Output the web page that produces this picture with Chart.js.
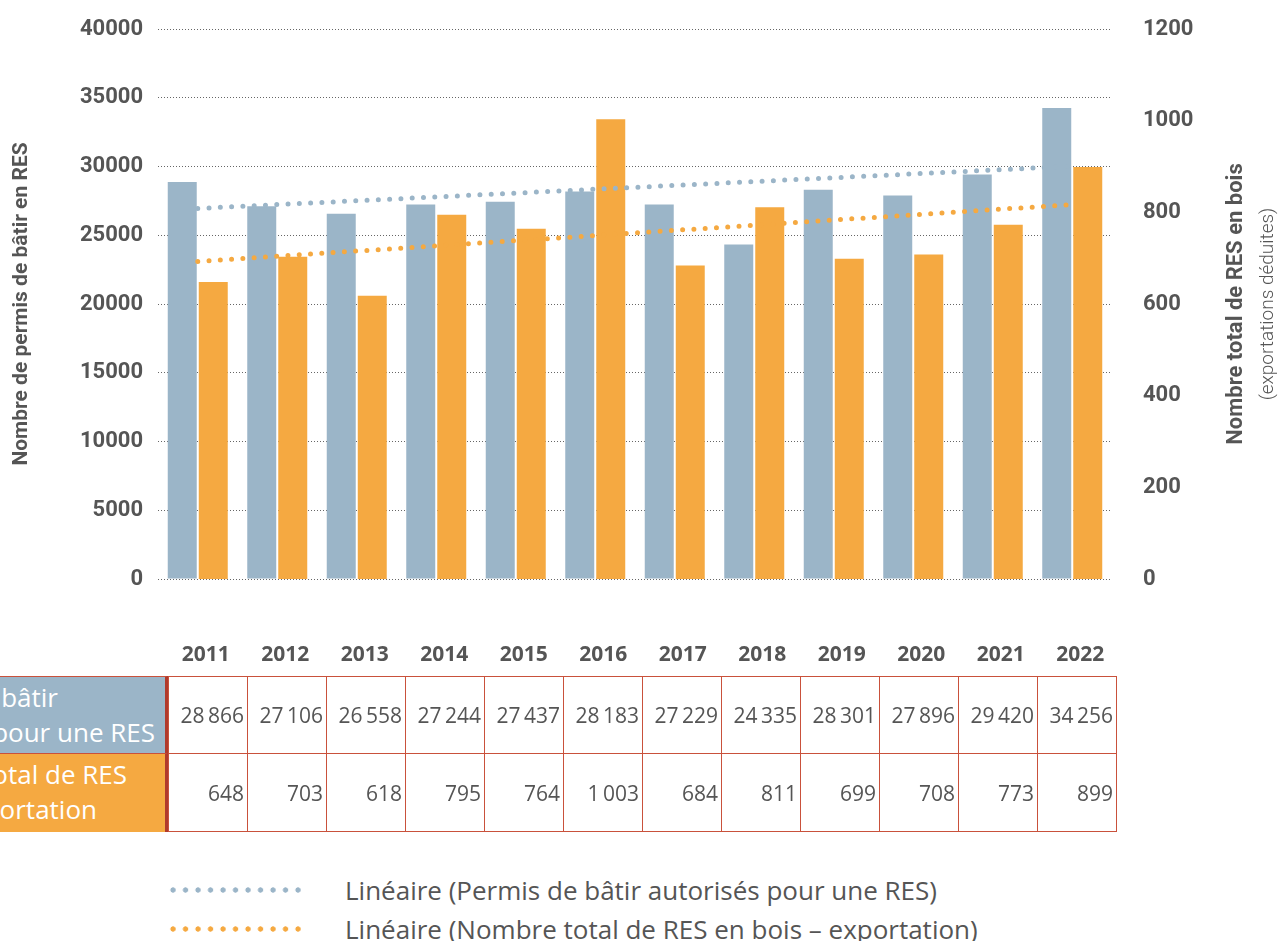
<!DOCTYPE html>
<html lang="fr">
<head>
<meta charset="utf-8">
<script src="https://cdn.jsdelivr.net/npm/chart.js@4.4.1/dist/chart.umd.min.js"></script>
<style>
  body { margin: 0; background: #fff; font-family: "Open Sans", sans-serif; }
  #wrap { position: relative; width: 1280px; height: 941px; overflow: hidden; }
  #chart { position: absolute; left: 0; top: 0; }
  .hcell { position: absolute; left: 0; width: 168px; box-sizing: border-box; overflow: hidden;
           border-right: 3px solid #b03a2c; border-top: 1px solid #c9513b; color: #fff; font-size: 26px; }
  .hline { position: absolute; white-space: nowrap; text-align: right; line-height: 35px; }
  .cell { position: absolute; box-sizing: border-box; border: 1px solid #c9513b; font-size: 21px; color: #555;
          display: flex; align-items: center; justify-content: flex-end; padding-right: 3px; }
  .leg { position: absolute; left: 167px; height: 34px; display: flex; align-items: center; font-size: 26px; color: #555; white-space: nowrap; }
  .leg .dots { width: 140px; height: 6px; margin-right: 38px; background-size: 12.5px 6px; background-repeat: repeat-x; }
</style>
</head>
<body>
<div id="wrap">
  <canvas id="chart" width="1280" height="680"></canvas>
  <div id="table"></div>
  <div id="legend"></div>
</div>
<script>
// données
const annees = ['2011', '2012', '2013', '2014', '2015', '2016', '2017', '2018', '2019', '2020', '2021', '2022'];
const permis = [28866, 27106, 26558, 27244, 27437, 28183, 27229, 24335, 28301, 27896, 29420, 34256];
const resBois = [648, 703, 618, 795, 764, 1003, 684, 811, 699, 708, 773, 899];
// courbes de tendance : seulement les extrémités
const tendancePermis = [26950, null, null, null, null, null, null, null, null, null, null, 30020];
const tendanceRes = [693, null, null, null, null, null, null, null, null, null, null, 817];

const nomPermis = 'Permis de bâtir autorisés pour une RES';
const nomRes = 'Nombre total de RES en bois – exportation';
const titreGauche = 'Nombre de permis de bâtir en RES';
const titreDroite = 'Nombre total de RES en bois';
const sousTitreDroite = '(exportations déduites)';

const BLEU = '#9bb5c8';
const ORANGE = '#f5a941';
const GRIS = '#555555';
const COND = "Roboto, 'Liberation Sans Narrow', sans-serif";

// titre de l'axe de droite (lu de bas en haut)
const titreDroitePlugin = {
    id: 'titreDroite',
    afterDraw(chart) {
        const ctx = chart.ctx;
        const cy = (chart.chartArea.top + chart.chartArea.bottom) / 2;
        ctx.save();
        ctx.fillStyle = GRIS;
        ctx.textAlign = 'center';
        ctx.textBaseline = 'middle';
        ctx.translate(1236, cy);
        ctx.rotate(-Math.PI / 2);
        ctx.font = 'bold 22px ' + COND;
        ctx.fillText(titreDroite, 0, 0);
        ctx.restore();
        ctx.save();
        ctx.fillStyle = GRIS;
        ctx.textAlign = 'center';
        ctx.textBaseline = 'middle';
        ctx.translate(1268, cy);
        ctx.rotate(-Math.PI / 2);
        ctx.font = '300 19px ' + COND;
        ctx.fillText(sousTitreDroite, 0, 0);
        ctx.restore();
    }
};

const tickFont = { family: COND, weight: 'bold', size: 22 };

const chart = new Chart(document.getElementById('chart').getContext('2d'), {
    type: 'bar',
    data: {
        labels: annees,
        datasets: [
            {
                type: 'line', label: 'Linéaire (' + nomPermis + ')', data: tendancePermis, yAxisID: 'y',
                borderColor: BLEU, borderWidth: 5, borderDash: [0, 11.3], borderCapStyle: 'round',
                pointRadius: 0, spanGaps: true, fill: false, order: 0
            },
            {
                type: 'line', label: 'Linéaire (' + nomRes + ')', data: tendanceRes, yAxisID: 'y1',
                borderColor: ORANGE, borderWidth: 5, borderDash: [0, 11.3], borderCapStyle: 'round',
                pointRadius: 0, spanGaps: true, fill: false, order: 0
            },
            {
                label: nomPermis, data: permis, backgroundColor: BLEU, yAxisID: 'y',
                categoryPercentage: 0.78, barPercentage: 0.935, order: 1
            },
            {
                label: nomRes, data: resBois, backgroundColor: ORANGE, yAxisID: 'y1',
                categoryPercentage: 0.78, barPercentage: 0.935, order: 1
            }
        ]
    },
    options: {
        responsive: false,
        animation: false,
        layout: { padding: { top: 29, left: 0, right: 0, bottom: 0 } },
        plugins: { legend: { display: false }, tooltip: { enabled: false } },
        scales: {
            x: {
                grid: { display: false },
                border: { display: false },
                ticks: { color: GRIS, font: { family: "'Open Sans', sans-serif", weight: 'bold', size: 21 },
                         padding: 55, labelOffset: 8, maxRotation: 0 },
                afterFit: function(s) { s.height = 101; }
            },
            y: {
                position: 'left', min: 0, max: 40000,
                ticks: { stepSize: 5000, color: GRIS, font: tickFont, padding: 15,
                         callback: function(v) { return String(v); } },
                grid: { color: '#666', drawTicks: false, lineWidth: 1 },
                border: { display: false, dash: [1, 2] },
                title: { display: true, text: titreGauche, color: GRIS,
                         font: { family: COND, weight: 'bold', size: 21 }, padding: { top: 9 } },
                afterFit: function(s) { s.width = 158; }
            },
            y1: {
                position: 'right', min: 0, max: 1200,
                ticks: { stepSize: 200, color: GRIS, font: tickFont, padding: 3,
                         callback: function(v) { return String(v); } },
                // marques masquées : leur longueur décale seulement les étiquettes
                grid: { display: false, drawTicks: true, tickLength: 28 },
                border: { display: false },
                afterFit: function(s) { s.width = 168; }
            }
        }
    },
    plugins: [titreDroitePlugin]
});

// tableau de données sous le graphique
function fmt(v) {
    return String(v).replace(/\B(?=(\d{3})+(?!\d))/g, '\u2009');
}

const table = document.getElementById('table');
const rangees = [
    { valeurs: permis, couleur: BLEU, top: 676, h: 78,
      lignes: [['Permis de bâtir', 58], ['autorisés pour une RES', 155]] },
    { valeurs: resBois, couleur: ORANGE, top: 753, h: 79,
      lignes: [['Nombre total de RES', 127], ['en bois – exportation', 97]] }
];
rangees.forEach(function(r) {
    const h = document.createElement('div');
    h.className = 'hcell';
    h.style.top = r.top + 'px';
    h.style.height = r.h + 'px';
    h.style.background = r.couleur;
    r.lignes.forEach(function(l, k) {
        const d = document.createElement('div');
        d.className = 'hline';
        d.textContent = l[0];
        d.style.right = (165 - l[1]) + 'px';
        d.style.top = (3 + k * 35) + 'px';
        h.appendChild(d);
    });
    table.appendChild(h);
    r.valeurs.forEach(function(v, i) {
        const c = document.createElement('div');
        c.className = 'cell';
        c.style.left = (168 + 79 * i) + 'px';
        c.style.width = '80px';
        c.style.top = r.top + 'px';
        c.style.height = r.h + 'px';
        c.textContent = fmt(v);
        table.appendChild(c);
    });
});

// légende des tendances
const legende = document.getElementById('legend');
[[chart.data.datasets[0], 873], [chart.data.datasets[1], 912]].forEach(function(e) {
    const ds = e[0];
    const row = document.createElement('div');
    row.className = 'leg';
    row.style.top = e[1] + 'px';
    const dots = document.createElement('span');
    dots.className = 'dots';
    dots.style.backgroundImage = 'radial-gradient(circle at 6px 3px, ' + ds.borderColor + ' 2.4px, transparent 2.9px)';
    const txt = document.createElement('span');
    txt.textContent = ds.label;
    row.appendChild(dots);
    row.appendChild(txt);
    legende.appendChild(row);
});
</script>
</body>
</html>
